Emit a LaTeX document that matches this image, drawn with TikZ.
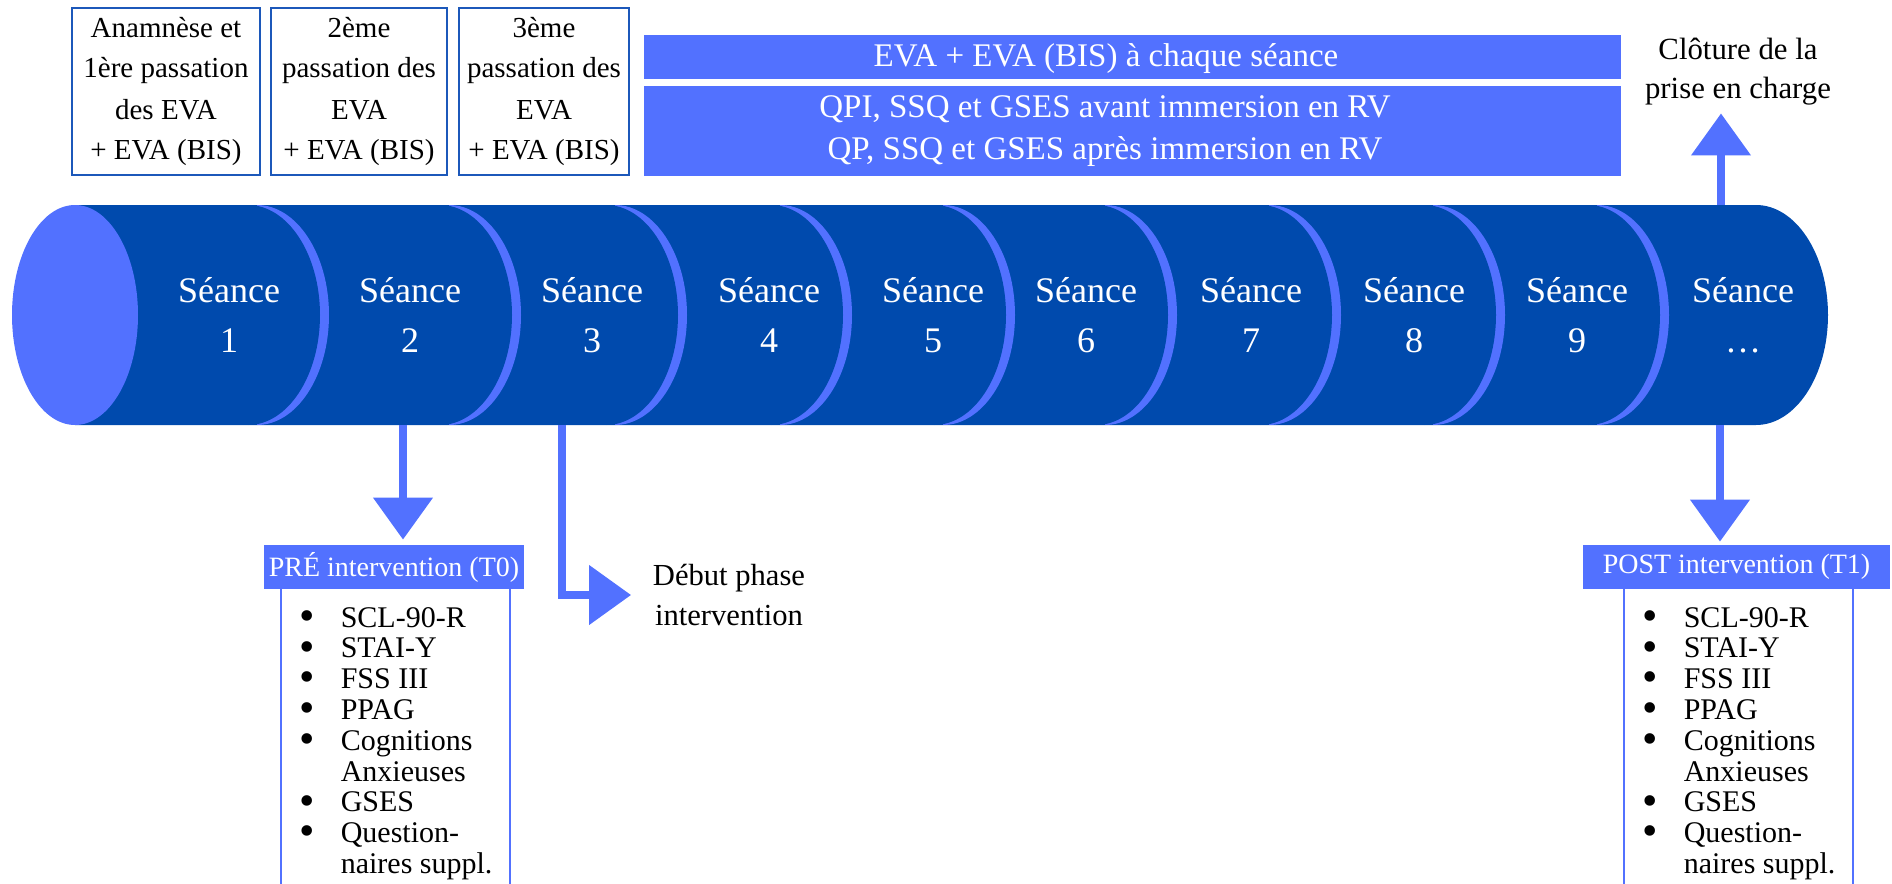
\documentclass[tikz,border=0pt]{standalone}
\usepackage{fontspec}
\setmainfont{Liberation Serif}
\usetikzlibrary{arrows.meta}
\newcommand\listdot{\smash{\raisebox{-1.6pt}{\fontsize{22}{15.4}\selectfont\textbullet}}}
\begin{document}
\begin{tikzpicture}[x = 0.5pt, y = -0.5pt,
  topbox/.style = {draw = boxblue, line width = 1.2pt, align = center, inner sep = 0pt, font = \fontsize{14.5}{20.5}\selectfont},
  bar/.style = {fill = lightblue, inner sep = 0pt, minimum width = 488.5pt},
  bartext/.style = {text = white, align = center, font = \fontsize{16.5}{21}\selectfont},
  seance/.style = {text = white, align = center, font = \fontsize{18}{25}\selectfont},
  header/.style = {fill = lightblue, text = white, inner sep = 0pt, minimum height = 22pt, font = \fontsize{14}{16}\selectfont},
  note/.style = {align = center, font = \fontsize{15.4}{19.5}\selectfont},
  itemlist/.style = {anchor = base west, inner sep = 0pt, font = \fontsize{15}{15.4}\selectfont},
  sideline/.style = {draw = lightblue, line width = 1.2pt},
  bigarrow/.style = {draw = lightblue, line width = 4pt, -{Triangle[width = 29pt, length = 21pt]}}]
\definecolor{darkblue}{HTML}{004AAD}
\definecolor{lightblue}{HTML}{5271FF}
\definecolor{boxblue}{RGB}{28,88,186}
\pgfmathsetmacro\cyltop{205}
\pgfmathsetmacro\cylbot{425}
\pgfmathsetmacro\cylmid{315}
\pgfmathsetmacro\ellrx{72}
\pgfmathsetmacro\ellry{110}
\useasboundingbox (0,0) rectangle (1892,884);
\node[topbox, minimum width = 94pt, minimum height = 83.5pt] (eva1) at (166,91.5) {Anamnèse et\\1ère passation\\des EVA\\+ EVA (BIS)};
\node[topbox, minimum width = 88pt, minimum height = 83.5pt] (eva2) at (359,91.5) {2ème\\passation des\\EVA\\+ EVA (BIS)};
\node[topbox, minimum width = 85pt, minimum height = 83.5pt] (eva3) at (544,91.5) {3ème\\passation des\\EVA\\+ EVA (BIS)};
\node[bar, minimum height = 22pt] (bar1) at (1132.5,57) {};
\node[bar, minimum height = 45pt] (bar2) at (1132.5,131) {};
\node[bartext] (evatxt) at (1106,59) {EVA + EVA (BIS) à chaque séance};
\node[bartext] (rvtxt) at (1105,131) {QPI, SSQ et GSES avant immersion en RV\\QP, SSQ et GSES après immersion en RV};
\node[note, inner sep = 3pt] (cloture) at (1738,71.5) {Clôture de la\\prise en charge};
\foreach \n/\a/\b in {10/1588/1756, 9/1424/1588, 8/1260/1424, 7/1096/1260, 6/934/1096, 5/771/934, 4/606/771, 3/440/606, 2/248/440, 1/75/248} {
  \ifnum\n<10
    \fill[lightblue] (\b+9,\cyltop) arc[start angle = -90, end angle = 90, x radius = \ellrx, y radius = \ellry] -- cycle;
  \fi
  \fill[darkblue] (\a,\cyltop) -- (\b,\cyltop) arc[start angle = -90, end angle = 90, x radius = \ellrx, y radius = \ellry] -- (\a,\cylbot) -- cycle;
}
\fill[lightblue] (75,\cylmid) ellipse[x radius = 63, y radius = \ellry];
\foreach \n/\x/\lab in {1/229/1, 2/410/2, 3/592/3, 4/769/4, 5/933/5, 6/1086/6, 7/1251/7, 8/1414/8, 9/1577/9, 10/1743/\ldots}
  \node[seance] (s\n) at (\x,\cylmid) {Séance\\\lab};
\node[header, minimum width = 130pt] (pre) at (394,567) {PRÉ intervention (T0)};
\node[header, minimum width = 153.5pt] (post) at (1736.5,567) {POST intervention (T1)};
\draw[sideline] (281,589) -- (281,884) (510,589) -- (510,884);
\draw[sideline] (1624,589) -- (1624,884) (1853,589) -- (1853,884);
\node[itemlist] (prelist) at (299,627) {\begin{tabular}[t]{@{}l@{\hspace{13pt}}l@{}}
\listdot & SCL-90-R\\ \listdot & STAI-Y\\ \listdot & FSS III\\ \listdot & PPAG\\
\listdot & Cognitions\\ & Anxieuses\\ \listdot & GSES\\ \listdot & Question-\\ & naires suppl.
\end{tabular}};
\node[itemlist] (postlist) at (1642,627) {\begin{tabular}[t]{@{}l@{\hspace{13pt}}l@{}}
\listdot & SCL-90-R\\ \listdot & STAI-Y\\ \listdot & FSS III\\ \listdot & PPAG\\
\listdot & Cognitions\\ & Anxieuses\\ \listdot & GSES\\ \listdot & Question-\\ & naires suppl.
\end{tabular}};
\node[note, font = \fontsize{15.3}{20}\selectfont] (debut) at (729,595) {Début phase\\intervention};
\coordinate (t0start) at (403,\cylbot);
\coordinate (t1start) at (1720,\cylbot);
\coordinate (phasestart) at (562,\cylbot);
\coordinate (endstart) at (1721,\cyltop);
\draw[bigarrow, shorten > = 2.5pt] (t0start) -- (t0start |- pre.north);
\draw[bigarrow, shorten > = 1.5pt] (t1start) -- (t1start |- post.north);
\draw[bigarrow, shorten > = 7.4pt] (phasestart) |- (debut.west);
\draw[bigarrow, shorten > = 1pt] (endstart) -- (endstart |- cloture.south);
\end{tikzpicture}
\end{document}
